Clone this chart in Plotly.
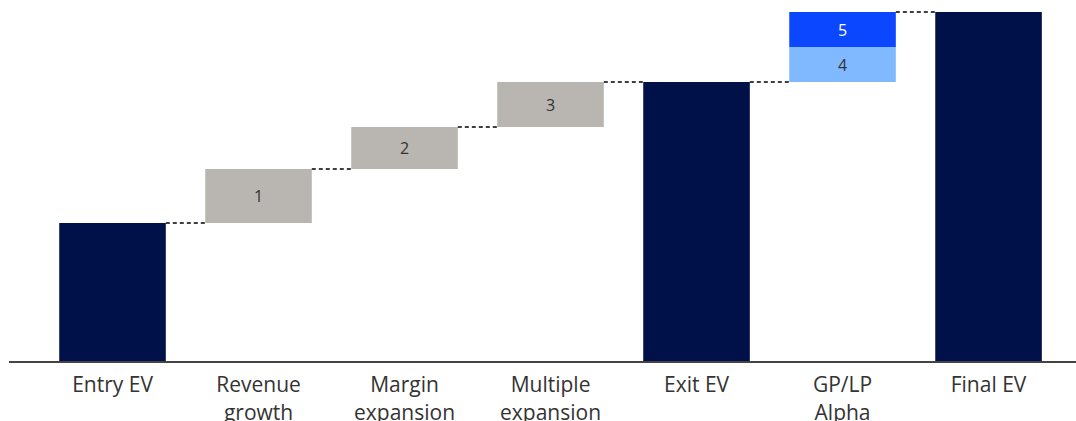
import plotly.graph_objects as go

categories = ["Entry EV", "Revenue<br>growth", "Margin<br>expansion", "Multiple<br>expansion",
              "Exit EV", "GP/LP<br>Alpha", "Final EV"]
entry_ev = 138
steps = [54, 42, 45]          # Revenue growth, Margin expansion, Multiple expansion
step_labels = ["1", "2", "3"]
alpha = [35, 35]              # GP/LP alpha components
alpha_labels = ["4", "5"]

NAVY = "#001149"
GRAY = "#b9b6b1"
LIGHT = "#80b9ff"
BLUE = "#0a47ff"
W = 0.73
FONT = "Open Sans"

exit_ev = entry_ev + sum(steps)
final_ev = exit_ev + sum(alpha)

fig = go.Figure()
# totals
fig.add_trace(go.Bar(x=[0, 4, 6], y=[entry_ev, exit_ev, final_ev], base=[0, 0, 0],
                     marker=dict(color=NAVY, line=dict(width=0)), width=W, hoverinfo="skip"))
# gray steps
bases = []
b = entry_ev
for s in steps:
    bases.append(b)
    b += s
txt = dict(textposition="inside", insidetextanchor="middle", constraintext="none")
fig.add_trace(go.Bar(x=[1, 2, 3], y=steps, base=bases, text=step_labels,
                     textfont=dict(color="#333333", size=16, family=FONT),
                     marker=dict(color=GRAY, line=dict(width=0)), width=W, hoverinfo="skip", **txt))
# alpha segments
fig.add_trace(go.Bar(x=[5], y=[alpha[0]], base=[exit_ev], text=[alpha_labels[0]],
                     textfont=dict(color="#333333", size=16, family=FONT),
                     marker=dict(color=LIGHT, line=dict(width=0)), width=W, hoverinfo="skip", **txt))
fig.add_trace(go.Bar(x=[5], y=[alpha[1]], base=[exit_ev + alpha[0]], text=[alpha_labels[1]],
                     textfont=dict(color="white", size=16, family=FONT),
                     marker=dict(color=BLUE, line=dict(width=0)), width=W, hoverinfo="skip", **txt))

# connectors
levels = [entry_ev] + [bases[i] + steps[i] for i in range(3)] + [exit_ev, final_ev]
for i, lv in enumerate(levels):
    fig.add_shape(type="line", xref="x", yref="y",
                  x0=i + W / 2, x1=i + 1 - W / 2, y0=lv, y1=lv,
                  line=dict(color="#000000", width=1.3, dash="4px,3px"))

fig.update_layout(
    width=1076, height=421,
    margin=dict(l=9, r=0, t=0, b=60),
    plot_bgcolor="white", paper_bgcolor="white",
    barmode="overlay", showlegend=False,
    font=dict(family=FONT, color="#333333"),
    xaxis=dict(range=[-0.709, 6.599], tickmode="array", tickvals=list(range(7)),
               ticktext=categories, showgrid=False, zeroline=False,
               showline=True, linecolor="#444444", linewidth=2,
               ticks="", ticklabelstandoff=4, automargin=False,
               tickfont=dict(size=21, color="#333333", family=FONT)),
    yaxis=dict(range=[0, 361], visible=False, showgrid=False, zeroline=False, automargin=False),
)

fig.write_html("out.html")
